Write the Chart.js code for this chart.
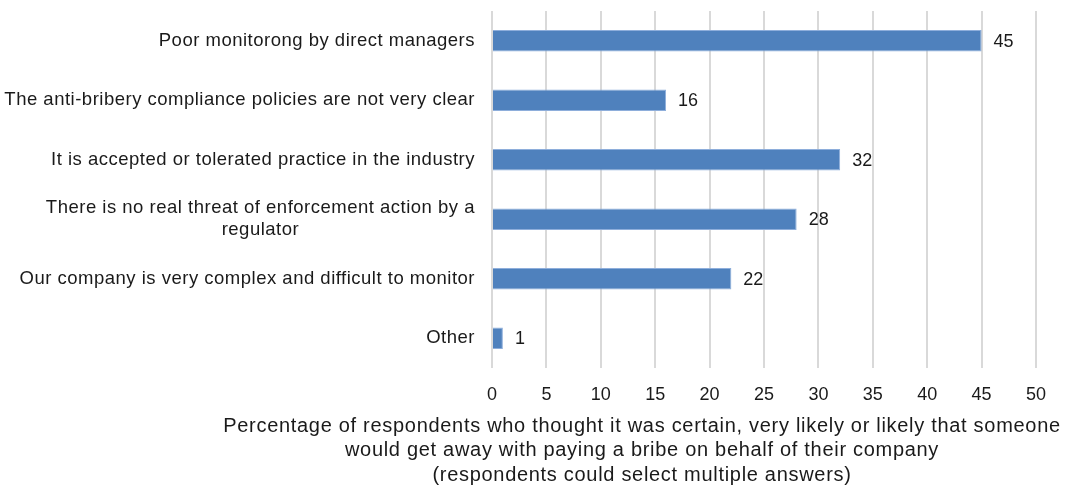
<!DOCTYPE html>
<html>
<head>
<meta charset="utf-8">
<script src="https://cdn.jsdelivr.net/npm/chart.js@4"></script>
<style>
  html, body { margin: 0; padding: 0; background: #fff; }
  #wrap { width: 1070px; height: 492px; }
</style>
</head>
<body>
<div id="wrap"><canvas id="chart" width="1070" height="492"></canvas></div>
<script>
// data
const categories = [
  ["Poor monitorong by direct managers"],
  ["The anti-bribery compliance policies are not very clear"],
  ["It is accepted or tolerated practice in the industry"],
  ["There is no real threat of enforcement action by a", "regulator"],
  ["Our company is very complex and difficult to monitor"],
  ["Other"]
];
const percentages = [45, 16, 32, 28, 22, 1];
const xTicks = [0, 5, 10, 15, 20, 25, 30, 35, 40, 45, 50];
const axisTitle = [
  "Percentage of respondents who thought it was certain, very likely or likely that someone",
  "would get away with paying a bribe on behalf of their company",
  "(respondents could select multiple answers)"
];

const FONT = "'Liberation Sans', Arial, sans-serif";
const TEXT = "#1a1a1a";

// y labels: right aligned block, extra lines centred under the first
const catLabels = {
  id: "catLabels",
  afterDraw(chart) {
    const { ctx, scales } = chart;
    const y = scales.y;
    ctx.save();
    ctx.font = "18.5px " + FONT;
    ctx.letterSpacing = "0.5px";
    ctx.fillStyle = TEXT;
    ctx.textBaseline = "middle";
    const right = 475, lh = 22;
    categories.forEach((lines, i) => {
      const cy = y.getPixelForTick(i);
      const w = Math.max(...lines.map((l) => ctx.measureText(l).width));
      const cx = right - w / 2;
      const top = cy - ((lines.length - 1) * lh) / 2;
      ctx.textAlign = "center";
      lines.forEach((l, k) => ctx.fillText(l, cx, top + k * lh));
    });
    // value labels
    ctx.font = "18px " + FONT;
    ctx.letterSpacing = "0px";
    const meta = chart.getDatasetMeta(0);
    ctx.textAlign = "left";
    meta.data.forEach((bar, i) => {
      ctx.fillText(String(percentages[i]), bar.x + 12, bar.y + 1);
    });
    // axis title
    ctx.font = "20px " + FONT;
    ctx.letterSpacing = "0.7px";
    ctx.textAlign = "center";
    axisTitle.forEach((l, k) => ctx.fillText(l, 642, 426 + k * 24.5));
    ctx.restore();
  }
};

new Chart(document.getElementById("chart"), {
  type: "bar",
  data: {
    labels: categories.map((c) => c.join(" ")),
    datasets: [
      {
        data: percentages,
        backgroundColor: "#4f81bd",
        borderColor: "#8eaedb",
        borderWidth: 1,
        barPercentage: 0.72,
        categoryPercentage: 0.5,
      },
    ],
  },
  options: {
    indexAxis: "y",
    responsive: false,
    animation: false,
    layout: { padding: { top: 11, right: 34, left: 0, bottom: 0 } },
    plugins: { legend: { display: false }, tooltip: { enabled: false } },
    scales: {
      x: {
        min: 0,
        max: 50,
        afterBuildTicks: (s) => { s.ticks = xTicks.map((v) => ({ value: v })); },
        afterFit: (s) => { s.height = 124; },
        grid: { color: "#d9d9d9", lineWidth: 2, drawTicks: false },
        border: { display: false },
        ticks: { font: { family: FONT, size: 18 }, color: TEXT, padding: 16 },
      },
      y: {
        afterFit: (s) => { s.width = 492; },
        grid: { display: false },
        border: { display: false },
        ticks: { display: false },
      },
    },
  },
  plugins: [catLabels],
});
</script>
</body>
</html>
